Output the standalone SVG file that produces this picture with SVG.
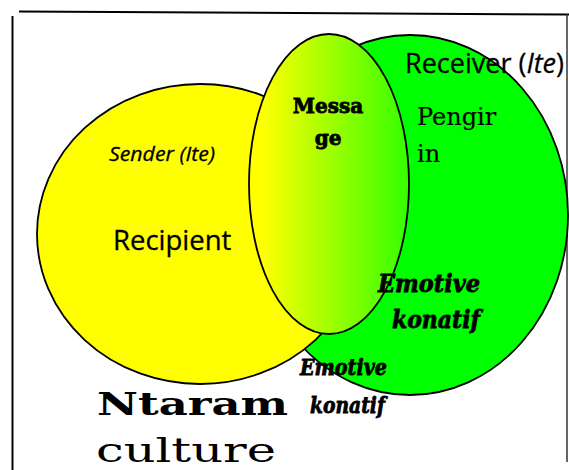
<svg xmlns="http://www.w3.org/2000/svg" width="569" height="470" viewBox="0 0 569 470">
<defs>
<linearGradient id="msg" x1="0" y1="0" x2="1" y2="0">
<stop offset="0.08" stop-color="#ffff00"/>
<stop offset="1" stop-color="#33ff00"/>
</linearGradient>
</defs>
<style>
.shape{stroke:#000;stroke-width:1.8}
.sans{font-family:"Open Sans","DejaVu Sans",sans-serif;fill:#000;stroke:#000;stroke-width:0.3}
.serif{font-family:"DejaVu Serif","Liberation Serif",serif;fill:#000}
.heavy{stroke:#000;stroke-width:0.8}
.frame{stroke:#000;stroke-width:2;fill:none}
</style>
<g id="frame">
<line class="frame" x1="19" y1="11.5" x2="569" y2="14.5"/>
<line class="frame" x1="12.5" y1="16" x2="12.5" y2="470"/>
<line x1="567" y1="14" x2="567" y2="462" stroke="#333" stroke-width="1.5"/>
</g>
<g id="receiver">
<ellipse class="shape" cx="410" cy="215" rx="158" ry="180" fill="#00ff00"/>
</g>
<g id="sender">
<ellipse class="shape" cx="200" cy="234" rx="163" ry="150" fill="#ffff00"/>
</g>
<g id="message">
<ellipse class="shape" cx="329" cy="184" rx="80" ry="150" fill="url(#msg)"/>
</g>
<g id="labels">
<text class="sans" x="405" y="73" font-size="27">Receiver (<tspan font-style="italic">Ite</tspan>)</text>
<text class="sans" x="109" y="161" font-size="20" font-style="italic" textLength="106" lengthAdjust="spacingAndGlyphs">Sender (Ite)</text>
<text class="sans" x="113" y="250" font-size="27.5">Recipient</text>
<text class="serif heavy" x="328" y="113" font-size="20" font-weight="bold" text-anchor="middle">Messa</text>
<text class="serif heavy" x="328" y="145" font-size="20" font-weight="bold" text-anchor="middle">ge</text>
<text class="serif" x="417" y="125" font-size="24" stroke="#000" stroke-width="0.2">Pengir</text>
<text class="serif" x="417" y="162" font-size="24" stroke="#000" stroke-width="0.2">in</text>
<text class="serif heavy" x="378" y="292" font-size="24" font-weight="bold" font-style="italic" textLength="102" lengthAdjust="spacingAndGlyphs">Emotive</text>
<text class="serif heavy" x="392" y="328" font-size="24" font-weight="bold" font-style="italic" textLength="88" lengthAdjust="spacingAndGlyphs">konatif</text>
<text class="serif heavy" x="300" y="375" font-size="23" font-weight="bold" font-style="italic" textLength="87" lengthAdjust="spacingAndGlyphs">Emotive</text>
<text class="serif heavy" x="310" y="413" font-size="23" font-weight="bold" font-style="italic" textLength="75" lengthAdjust="spacingAndGlyphs">konatif</text>
<text class="serif" x="97" y="415" font-size="31" font-weight="bold" textLength="191" lengthAdjust="spacingAndGlyphs">Ntaram</text>
<text class="serif" x="96" y="462" font-size="34" textLength="180" lengthAdjust="spacingAndGlyphs">culture</text>
</g>
</svg>
